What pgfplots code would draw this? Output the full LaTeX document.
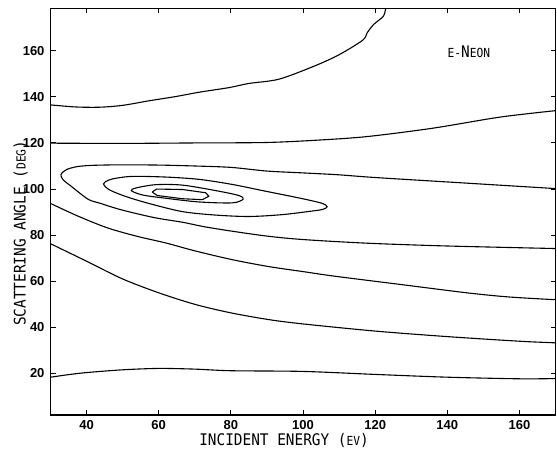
\documentclass[border=0pt]{standalone}
\usepackage{fontspec}
\usepackage{pgfplots}
\pgfplotsset{compat=1.18}
\newfontfamily\tickfont{Liberation Sans}
\newfontfamily\labfont{DejaVu Sans Mono}[FakeStretch=0.9]
\begin{document}
\begin{tikzpicture}
\begin{axis}[
  scale only axis, width=505pt, height=406.7pt,
  xmin=30, xmax=170, ymin=2, ymax=178.4,
  xtick={40,60,...,160}, ytick={20,40,...,160},
  tick align=inside, major tick length=5pt,
  axis line style={line width=1.3pt},
  every tick/.style={black, line width=1pt},
  /pgf/number format/assume math mode=true,
  ticklabel style={font=\tickfont\bfseries\fontsize{13}{13}\selectfont},
  yticklabel style={xshift=-2.5pt},
  xticklabel style={yshift=-2pt},
  xlabel={INCIDENT ENERGY ({\fontsize{12.5}{12.5}\selectfont EV})},
  ylabel={SCATTERING ANGLE ({\fontsize{12.5}{12.5}\selectfont DEG})},
  label style={font=\labfont\fontsize{16}{16}\selectfont},
  xlabel style={at={(rel axis cs:0.4625,0)}, anchor=center, yshift=-25.5pt},
  ylabel style={at={(rel axis cs:0,0.447)}, anchor=center, yshift=30pt},
  clip=true,
]
% top-right contour
\addplot[black, line width=1.1pt, smooth, tension=0.5] coordinates {
(30,136.5) (37,135.6) (43.7,135.5) (50,136.3) (57.4,138.3) (65,140.2) (71.2,142) (79.5,144) (85,145.8) (93.2,147.6) (102.3,152.8) (109.7,158) (116.5,164.5) (117.8,167.8) (119.6,171.4) (122.3,175) (122.9,178.4)};
% ~120 contour
\addplot[black, line width=1.1pt, smooth, tension=0.5] coordinates {
(30,119.9) (50,119.8) (70,120) (90,120.2) (105,121.3) (118,122.8) (136,126.4) (154.6,131.2) (170,134)};
% outer open loop
\addplot[black, line width=1.1pt, smooth, tension=0.5] coordinates {
(170,100.2) (145,102.6) (120,105) (109.7,106.2) (100,107) (90,107.8) (80,109.4) (70,110) (60,110.4) (49.6,110.5) (42,110.3) (37.7,109.8) (34.5,108.5) (32.9,106.3) (33.5,104) (35.5,101.5) (40.4,95.6) (43.6,93.9) (49.6,91) (58.8,87.6) (66.6,85.6) (72.5,83.7) (80,81.8) (90,79.6) (100,78.1) (118,76.5) (140,75.3) (170,74.2)};
% loop 2
\addplot[black, line width=1.1pt, smooth cycle, tension=0.5] coordinates {
(44.7,102.2) (46,103.8) (48.2,104.7) (52.8,105.5) (62,105.2) (71.2,104.2) (80.4,102) (89.5,99.1) (98.7,96.2) (105.1,93.9) (106.7,92.3) (105.5,91.2) (103.2,90.6) (94.2,88.9) (85,88.1) (75.9,88.7) (66.6,90.2) (57.4,93.7) (51,96.7) (46.4,99.6)};
% loop 3
\addplot[black, line width=1.1pt, smooth cycle, tension=0.5] coordinates {
(52.4,99.3) (53.8,100.5) (59.2,101.9) (66.6,101.7) (75.9,99.3) (82.2,97.2) (83.4,95.6) (80.4,94) (71.2,94.4) (62,96) (55.6,97.4)};
% loop 4
\addplot[black, line width=1.1pt] coordinates {
(58.2,98.7) (59.4,100) (66.6,99.8) (73,98.4) (73.9,96.9) (72.1,95.4) (66.6,95.8) (59.6,97.2) (58.2,98.7)};
% line 3
\addplot[black, line width=1.1pt, smooth, tension=0.5] coordinates {
(30,93.8) (31.3,92.8) (38,88) (45.9,83.1) (54,79.5) (62,76.6) (70,73.2) (80.3,69.4) (90.4,66.4) (100,64.2) (108.8,62.2) (127.1,58.6) (145.4,55) (157,53.2) (170,52)};
% line 2
\addplot[black, line width=1.1pt, smooth, tension=0.5] coordinates {
(30,76.3) (35,72.5) (40,68.7) (50,61) (60,55) (70,50) (80,46.3) (90.4,43.4) (100,41.5) (120,38.4) (140,36) (160,34) (170,33.3)};
% line 1
\addplot[black, line width=1.1pt, smooth, tension=0.5] coordinates {
(30,18.4) (35,19.5) (40,20.4) (50,21.6) (60,22.2) (70,21.9) (80,21.2) (100,20.9) (120,19.6) (140,18.4) (160,17.7) (170,17.8)};
\node[font=\labfont\fontsize{12.5}{12.5}\selectfont] at (axis cs:146,159.6) {E-{\fontsize{16}{16}\selectfont N}EON};
\end{axis}
\pgfresetboundingbox
\path[use as bounding box] ([shift={(-50.5pt,-50pt)}]current axis.south west) rectangle ([shift={(1.5pt,8.3pt)}]current axis.north east);
\end{tikzpicture}
\end{document}
